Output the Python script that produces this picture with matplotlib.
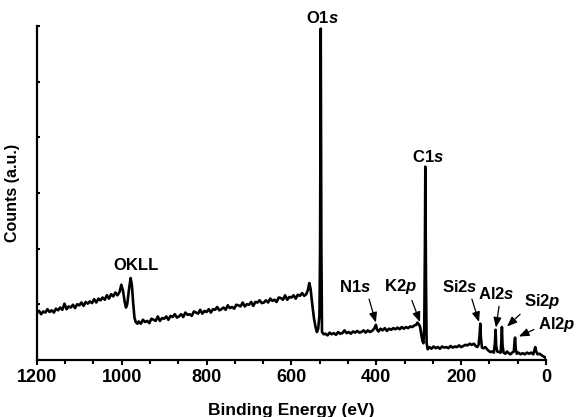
import numpy as np
import matplotlib
matplotlib.use("Agg")
import matplotlib.pyplot as plt
from matplotlib.ticker import MultipleLocator, AutoMinorLocator

plt.rcParams['font.family'] = 'Liberation Sans'
plt.rcParams['font.weight'] = 'bold'
plt.rcParams['mathtext.fontset'] = 'custom'
plt.rcParams['mathtext.rm'] = 'Liberation Sans:bold'
plt.rcParams['mathtext.it'] = 'Liberation Sans:italic:bold'
plt.rcParams['mathtext.bf'] = 'Liberation Sans:bold'

# survey spectrum (binding energy in eV, counts in a.u.)
energy = [
    1200, 1195, 1190, 1185, 1180, 1175, 1170, 1165, 1160, 1155, 1150, 1145, 1140, 1135,
    1130, 1125, 1120, 1115, 1110, 1105, 1100, 1095, 1090, 1085, 1080, 1075, 1070, 1065,
    1060, 1055, 1050, 1045, 1040, 1035, 1030, 1025, 1020, 1015, 1010, 1005,
    1001, 997, 993, 990, 987, 983, 979, 976, 973, 970, 967, 963,
    960, 955, 950, 945, 940, 935, 930, 925, 920, 915, 910, 905, 900, 895, 890, 885,
    880, 875, 870, 865, 860, 855, 850, 845, 840, 835, 830, 825, 820, 815, 810, 805,
    800, 795, 790, 785, 780, 775, 770, 765, 760, 755, 750, 745, 740, 735, 730, 725,
    720, 715, 710, 705, 700, 695, 690, 685, 680, 675, 670, 665, 660, 655, 650, 645,
    640, 635, 630, 625, 620, 615, 610, 605, 600, 595, 590, 585, 580, 575, 570, 565,
    561, 558, 555, 551, 547, 543, 540, 537, 534, 532.5, 531, 529.5, 528, 524,
    520, 515, 510, 505, 500, 495, 490, 485, 480, 475, 470, 465, 460, 455, 450, 445,
    440, 435, 430, 425, 420, 415, 410, 405, 401, 398, 395, 390, 385, 380, 375, 370,
    365, 360, 355, 350, 345, 340, 335, 330, 325, 320, 315, 310, 306, 303, 300, 297,
    294, 291, 289, 287, 285.5, 284.5, 283, 281.5, 279,
    275, 270, 265, 260, 255, 250, 245, 240, 235, 230, 225, 220, 215, 210, 205, 200,
    195, 190, 185, 180, 175, 170, 166, 162, 159, 156.5, 155, 153.5, 151,
    147, 143, 139, 135, 131, 127, 123, 120.5, 119, 117.5, 115, 111, 107, 105.5, 104,
    102.5, 100, 96, 92, 88, 84, 80, 76, 74.5, 73, 71.5, 69, 65, 60, 55, 50, 45, 40,
    35, 30, 27.5, 25.5, 23.5, 20, 15, 10, 6, 3, 1,
]
counts = [
    8.4, 8.8, 8.2, 8.7, 8.5, 9.1, 8.6, 8.9, 8.5, 9.2, 8.9, 9.4, 9.0, 10.1,
    9.1, 9.6, 9.4, 9.9, 9.3, 10.0, 9.8, 10.3, 9.7, 10.4, 10.1, 10.5, 10.2, 10.9,
    10.3, 11.0, 10.7, 11.2, 10.8, 11.6, 11.0, 11.8, 11.4, 12.1, 11.6, 12.2,
    13.5, 12.4, 10.4, 9.4, 10.0, 12.6, 14.7, 13.4, 10.2, 7.6, 6.8, 6.5,
    6.9, 6.5, 7.2, 6.8, 7.0, 6.6, 7.4, 7.2, 7.0, 7.8, 7.0, 7.5, 7.4, 7.8, 7.2, 7.9,
    7.7, 8.2, 7.6, 7.8, 8.2, 7.7, 8.5, 8.1, 8.2, 7.9, 8.7, 8.5, 8.3, 9.0, 8.3, 8.8,
    8.6, 9.1, 8.5, 9.1, 9.0, 9.5, 8.9, 9.1, 9.4, 9.0, 9.8, 9.3, 9.5, 9.2, 9.9, 9.8,
    9.6, 10.3, 9.6, 10.0, 9.9, 10.4, 9.7, 10.4, 10.3, 10.7, 10.2, 10.3, 10.7, 10.3, 11.0, 10.6,
    10.8, 10.4, 11.2, 11.1, 10.8, 11.6, 10.8, 11.3, 11.2, 11.6, 11.0, 11.7, 11.5, 12.0, 11.5, 11.8,
    12.6, 13.8, 12.8, 10.0, 7.5, 5.8, 5.0, 5.6, 8.0, 20.0, 59.5, 20.0, 5.0, 4.6,
    4.7, 4.4, 4.9, 4.6, 4.8, 4.5, 5.0, 4.7, 4.8, 5.3, 4.8, 5.0, 4.7, 5.1, 4.9, 5.2,
    4.9, 5.0, 5.3, 4.9, 5.3, 5.0, 5.2, 5.6, 6.3, 5.4, 5.1, 5.6, 5.3, 5.7, 5.2, 5.6,
    5.4, 5.7, 5.5, 5.8, 5.5, 5.9, 5.6, 5.9, 5.7, 6.0, 5.9, 6.2, 6.3, 6.7, 6.4, 6.0,
    4.5, 3.3, 3.0, 6.0, 20.0, 34.7, 15.0, 3.0, 1.9,
    2.3, 2.0, 2.4, 2.1, 2.3, 2.0, 2.4, 2.2, 2.3, 2.1, 2.5, 2.2, 2.4, 2.3, 2.6, 2.3,
    2.5, 2.7, 2.6, 2.9, 2.7, 2.9, 2.5, 2.3, 2.7, 4.5, 6.5, 4.0, 2.2,
    2.1, 2.3, 1.9, 1.6, 1.4, 1.5, 1.3, 3.0, 5.4, 2.5, 1.5, 1.4, 1.3, 3.0, 5.9,
    2.5, 1.3, 1.1, 1.5, 1.2, 1.0, 1.3, 1.5, 3.0, 4.0, 2.0, 1.1, 1.3, 1.0, 1.2, 1.0, 1.3, 1.1,
    1.3, 1.0, 1.7, 2.3, 1.6, 1.0, 1.1, 0.8, 0.6, 0.5, 0.3,
]

# peak labels: text, text position (eV, counts), arrow tip or None, arrow start on text box
labels = [r'O$\mathit{1s}$', r'C$\mathit{1s}$', 'OKLL', r'N$\mathit{1s}$', r'K2$\mathit{p}$',
          r'Si2$\mathit{s}$', r'Al2$\mathit{s}$', r'Si2$\mathit{p}$', r'Al2$\mathit{p}$']
label_pos = [(526, 61.4), (278, 36.5), (967, 16.9), (450, 13.1), (343, 13.1),
             (203, 13.1), (118, 11.8), (9, 10.5), (-25, 6.3)]
arrow_tip = [None, None, None, (401, 6.7), (297, 6.8), (158, 6.8), (118, 5.8),
             (92, 6.0), (64, 4.2)]
arrow_rel = [None, None, None, (0.9, 0), (0.8, 0), (0.8, 0), (0.6, 0),
             (0.05, 0.1), (0.0, 0.35)]

fig = plt.figure(figsize=(5.76, 4.17), dpi=100)
ax = fig.add_axes([0.064, 0.137, 0.884, 0.801])

ax.plot(energy, counts, color='black', lw=1.9)

for txt, pos, tip, rel in zip(labels, label_pos, arrow_tip, arrow_rel):
    if tip is None:
        ax.text(pos[0], pos[1], txt, ha='center', va='center', fontsize=12,
                fontweight='bold', clip_on=False)
    else:
        ax.annotate(txt, xy=tip, xytext=pos, ha='center', va='center',
                    fontsize=12, fontweight='bold', annotation_clip=False,
                    arrowprops=dict(arrowstyle='-|>,head_length=0.5,head_width=0.2',
                                    color='black', lw=0.9, relpos=rel,
                                    shrinkA=1, shrinkB=0))

ax.set_xlim(1200, 0)
ax.set_ylim(0, 60)
ax.xaxis.set_major_locator(MultipleLocator(200))
ax.xaxis.set_minor_locator(AutoMinorLocator(3))
ax.yaxis.set_major_locator(MultipleLocator(10))
ax.set_yticklabels([])
ax.tick_params(axis='x', which='major', direction='out', length=3.5, width=1.5,
               labelsize=13, pad=3)
ax.tick_params(axis='x', which='minor', direction='out', length=3, width=1.5)
ax.tick_params(axis='y', direction='in', length=2, width=1.5)
for lbl in ax.get_xticklabels():
    lbl.set_fontweight('bold')

for side in ['top', 'right']:
    ax.spines[side].set_visible(False)
for side in ['left', 'bottom']:
    ax.spines[side].set_linewidth(1.6)

ax.set_xlabel('Binding Energy (eV)', fontsize=12.5, fontweight='bold', labelpad=12)
ax.set_ylabel('Counts (a.u.)', fontsize=11.5, fontweight='bold', labelpad=9)

fig.savefig('out.png', dpi=100)
